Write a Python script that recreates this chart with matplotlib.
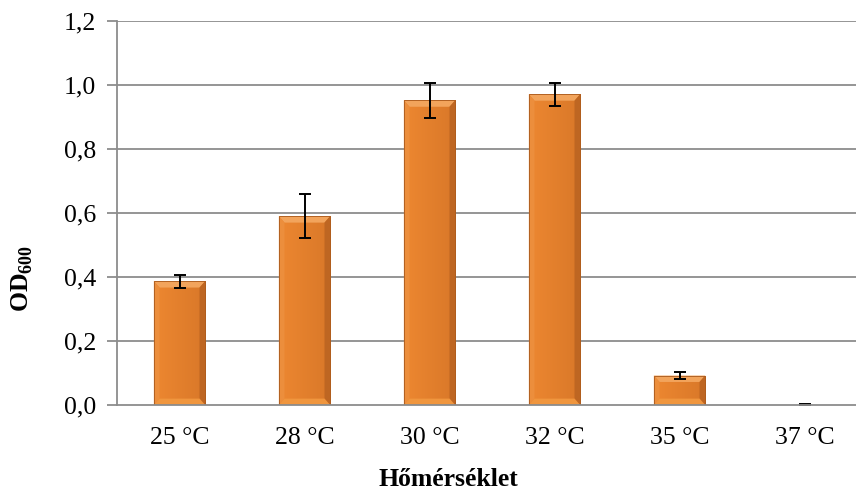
import numpy as np
import matplotlib.pyplot as plt
from matplotlib.patches import Polygon, Rectangle

plt.rcParams['font.family'] = ['Liberation Serif', 'DejaVu Serif']
plt.rcParams['mathtext.fontset'] = 'custom'
plt.rcParams['mathtext.rm'] = 'Liberation Serif'
plt.rcParams['mathtext.bf'] = 'Liberation Serif:bold'

# adatok
homerseklet = ['25 °C', '28 °C', '30 °C', '32 °C', '35 °C', '37 °C']
od600 = [0.387, 0.590, 0.952, 0.971, 0.092, 0.001]
hiba = [0.020, 0.068, 0.055, 0.036, 0.010, 0.001]
yticks = [0.0, 0.2, 0.4, 0.6, 0.8, 1.0, 1.2]

W, H = 856, 491
fig = plt.figure(figsize=(W / 100, H / 100), dpi=100)
ax = fig.add_axes([117 / W, (H - 405) / H, 750 / W, 384 / H])

x = np.arange(len(homerseklet))
szel = 0.41
szurke = '#8c8c8c'

# racs
for t in yticks[1:]:
    ax.axhline(t, color=szurke, lw=1.3, zorder=0)

bars = ax.bar(x, od600, width=szel, color='#E5822C', edgecolor='none', zorder=2)

# arnyek + bevel
dx = 0.045
for b in bars:
    x0, y0 = b.get_x(), b.get_y()
    x1, y1 = x0 + b.get_width(), y0 + b.get_height()
    h = y1 - y0
    if h < 0.005:
        continue
    dy = min(0.02, h / 3)
    ax.add_patch(Rectangle((x0 + 0.01, y0), b.get_width(), h - 0.003,
                           color='#000000', alpha=0.10, lw=0, zorder=1.5))
    # vizszintes szinatmenet a lapon
    grad = np.linspace(0, 1, 64)
    c0 = np.array([0.93, 0.53, 0.19])
    c1 = np.array([0.85, 0.47, 0.16])
    img = (c0[None, :] * (1 - grad[:, None]) + c1[None, :] * grad[:, None])[None, :, :]
    im = ax.imshow(img, extent=[x0, x1, y0, y1], aspect='auto', zorder=2.1,
                   interpolation='bilinear')
    im.set_clip_path(b)
    polys = [
        ([(x0, y1), (x1, y1), (x1 - dx, y1 - dy), (x0 + dx, y1 - dy)], '#F2A45C'),
        ([(x0, y0), (x0, y1), (x0 + dx, y1 - dy), (x0 + dx, y0 + dy)], '#EC8E3C'),
        ([(x1, y0), (x1, y1), (x1 - dx, y1 - dy), (x1 - dx, y0 + dy)], '#BE6622'),
        ([(x0, y0), (x1, y0), (x1 - dx, y0 + dy), (x0 + dx, y0 + dy)], '#F0963E'),
    ]
    for pts, c in polys:
        ax.add_patch(Polygon(pts, closed=True, color=c, lw=0, zorder=2.2))
    ax.add_patch(Rectangle((x0, y0), x1 - x0, h, fill=False, edgecolor='#A9591C',
                           lw=0.6, zorder=2.3))

ax.errorbar(x, od600, yerr=hiba, fmt='none', ecolor='black', elinewidth=1.4,
            capsize=4, capthick=1.4, zorder=3)

ax.set_xlim(-0.5, len(homerseklet) - 0.5)
ax.set_ylim(0, 1.2)
ax.set_yticks(yticks)
ax.set_yticklabels([f'{t:.1f}'.replace('.', ',') for t in yticks])
ax.set_xticks(x)
ax.set_xticklabels(homerseklet)

for s in ['top', 'right']:
    ax.spines[s].set_visible(False)
for s in ['left', 'bottom']:
    ax.spines[s].set_color(szurke)
    ax.spines[s].set_linewidth(1.3)
ax.spines['bottom'].set_zorder(4)

ax.tick_params(axis='y', length=7, width=1.3, color=szurke, pad=8, labelsize=18.5)
ax.tick_params(axis='x', length=0, pad=16, labelsize=18.5)

fig.text(448 / W, 1 - 479 / H, 'Hőmérséklet', ha='center', va='center',
         fontsize=18.5, fontweight='bold')
fig.text(22 / W, 1 - 278 / H, r'OD$_{\mathbf{600}}$', ha='center', va='center',
         rotation=90, fontsize=18.5, fontweight='bold')

fig.savefig('out.png', dpi=100)
